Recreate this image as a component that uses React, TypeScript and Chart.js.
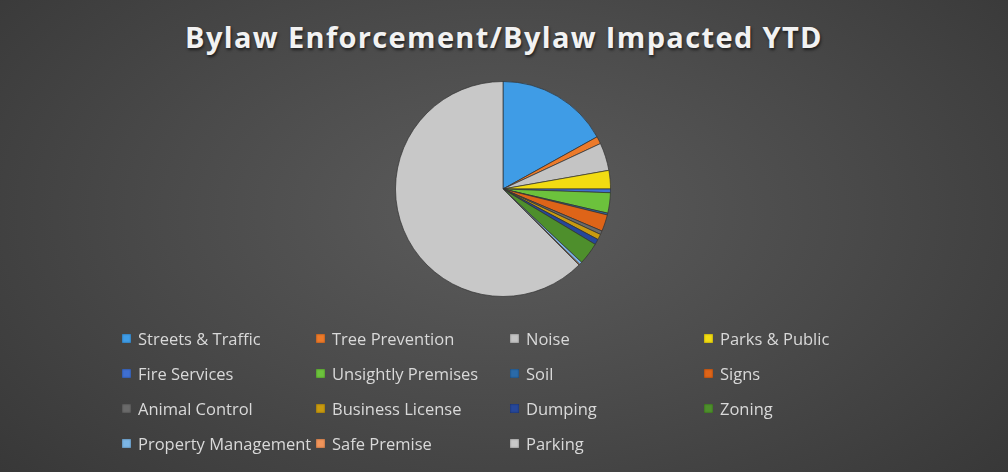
import React, { useEffect, useRef } from "react";
import { Chart, registerables } from "chart.js";

Chart.register(...registerables);

const title = "Bylaw Enforcement/Bylaw Impacted YTD";
const categories = [
  "Streets & Traffic", "Tree Prevention", "Noise", "Parks & Public",
  "Fire Services", "Unsightly Premises", "Soil", "Signs",
  "Animal Control", "Business License", "Dumping", "Zoning",
  "Property Management", "Safe Premise", "Parking",
];
const values = [122, 8, 30, 20, 4, 22, 2, 18, 4, 6, 6, 24, 3, 1, 450];
const colors = [
  "#3f9ce6", "#ec7a2a", "#c4c4c4", "#f2dc12",
  "#3f6fd0", "#6cc23c", "#2a6aa8", "#de6418",
  "#6a6a6a", "#c89a10", "#26479a", "#4e8f2c",
  "#7cb6e6", "#f0945a", "#c8c8c8",
];

export default function App() {
  const ref = useRef<HTMLCanvasElement | null>(null);
  useEffect(() => {
    document.body.style.margin = "0";
    const chart = new Chart(ref.current!, {
      type: "pie",
      data: {
        labels: categories,
        datasets: [{
          data: values,
          backgroundColor: colors,
          borderColor: "rgba(50,50,50,0.7)",
          borderWidth: 1,
        }],
      },
      options: {
        animation: false,
        responsive: false,
        maintainAspectRatio: false,
        layout: { padding: { top: 81, bottom: 175, left: 395, right: 397 } },
        plugins: { legend: { display: false }, tooltip: { enabled: false }, title: { display: false } },
      },
    });
    return () => chart.destroy();
  }, []);

  const cols = [122, 316, 510, 704];
  const rows = [338, 373, 408, 443];
  return (
    <div style={{
      position: "relative", width: 1008, height: 472, overflow: "hidden",
      background: "radial-gradient(ellipse 75% 95% at 50% 45%, #5c5c5c 0%, #4a4a4a 45%, #333333 100%)",
      fontFamily: "'Open Sans', 'Noto Sans', sans-serif",
    }}>
      <div style={{
        position: "absolute", left: 0, width: 1008, top: 17, textAlign: "center",
        fontSize: 29, fontWeight: 700, color: "#f2f2f2", letterSpacing: 1.35,
        textShadow: "1px 2px 3px rgba(0,0,0,0.6)",
      }}>{title}</div>
      <canvas ref={ref} width={1008} height={472} style={{ position: "absolute", left: 0, top: 0 }} />
      {categories.map((c, i) => {
        const x = cols[i % 4];
        const y = rows[Math.floor(i / 4)];
        return (
          <div key={c} style={{ position: "absolute", left: x, top: y - 11, height: 22, display: "flex", alignItems: "center", whiteSpace: "nowrap" }}>
            <span style={{
              display: "inline-block", width: 9, height: 9, marginRight: 7,
              background: colors[i], boxShadow: "inset 0 0 2px rgba(0,0,0,0.5)",
            }} />
            <span style={{ fontSize: 16.5, color: "#d9d9d9" }}>{c}</span>
          </div>
        );
      })}
    </div>
  );
}
